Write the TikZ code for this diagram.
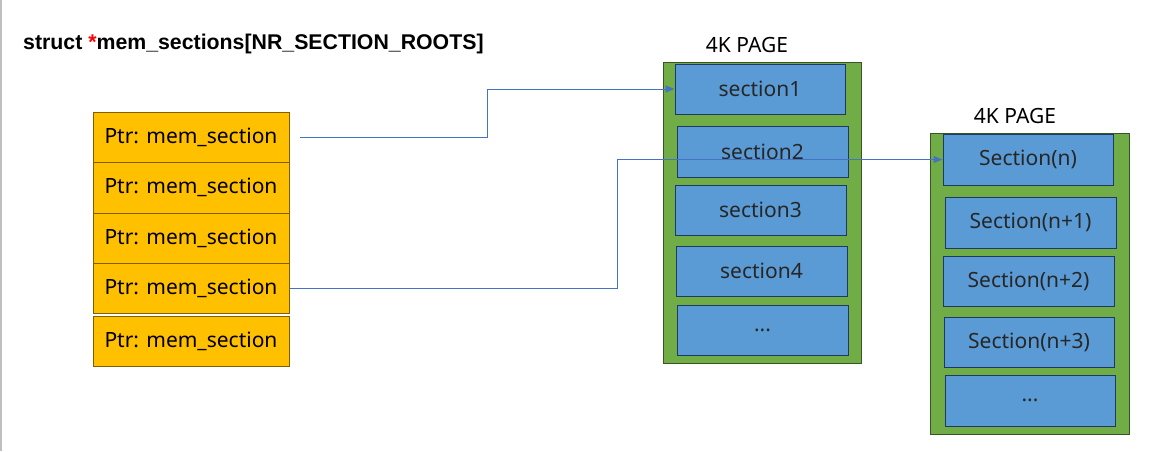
\documentclass[tikz,border=0pt]{standalone}
\usepackage{fontspec}
\setmainfont{Noto Sans}
\newfontfamily\titlefont{Liberation Sans}
\usetikzlibrary{arrows.meta}
\definecolor{ptrfill}{HTML}{FFC000}
\definecolor{ptrline}{HTML}{7F6000}
\definecolor{pagefill}{HTML}{70AD47}
\definecolor{pageline}{HTML}{375623}
\definecolor{secfill}{HTML}{5B9BD5}
\definecolor{secline}{HTML}{1F3864}
\definecolor{linkblue}{HTML}{4472C4}
\tikzset{
  ptrbox/.style={draw=ptrline, fill=ptrfill, line width=1pt, minimum width=196pt, minimum height=50pt, inner sep=0pt, font=\fontsize{21}{24}\selectfont},
  secbox/.style={draw=secline, fill=secfill, line width=1pt, minimum width=170pt, minimum height=50pt, inner sep=0pt, text=black!85, font=\fontsize{21}{24}\selectfont},
  pagebox/.style={draw=pageline, fill=pagefill, line width=1pt},
  pagelabel/.style={inner sep=0pt, font=\fontsize{21}{24}\selectfont},
  link/.style={draw=linkblue, line width=1pt, -{Triangle[length=9pt,width=7pt]}}
}
\begin{document}
\begin{tikzpicture}[x=1pt, y=-1pt]
\useasboundingbox (0,0) rectangle (1161,451);
\draw[gray!50, line width=1.5pt] (0.75,0) -- (0.75,451);
\node[anchor=west, inner sep=0pt, font=\titlefont\bfseries\fontsize{21.3}{24}\selectfont] (title) at (23,44) {struct \textcolor{red}{*}mem\_sections[NR\_SECTION\_ROOTS]};
% pointer array
\node[ptrbox, minimum height=50pt] (p1) at (191,137) {Ptr: mem\_section};
\node[ptrbox, minimum height=51pt] (p2) at (191,187.5) {Ptr: mem\_section};
\node[ptrbox, minimum height=50pt] (p3) at (191,238) {Ptr: mem\_section};
\node[ptrbox, minimum height=50pt] (p4) at (191,288) {Ptr: mem\_section};
\node[ptrbox, minimum height=50pt] (p5) at (191,341) {Ptr: mem\_section};
% first page
\draw[pagebox] (663,62) rectangle (861,363);
\node[pagelabel] (lbla) at (747,45) {4K PAGE};
\node[secbox] (s1) at (760,89) {section1};
\node[secbox, minimum width=171pt, minimum height=51pt] (s2) at (762.5,151.5) {section2};
\node[secbox, minimum width=171pt] (s3) at (760.5,210) {section3};
\node[secbox, minimum width=171pt] (s4) at (761.5,271) {section4};
\node[secbox, minimum width=171pt] (s5) at (762.5,330) {...};
% second page
\draw[pagebox] (930,133) rectangle (1129,434);
\node[pagelabel] (lblb) at (1015,116) {4K PAGE};
\node[secbox, minimum height=51pt] (n0) at (1028,159.5) {Section(n)};
\node[secbox, minimum width=171pt, minimum height=51pt] (n1) at (1030.5,222.5) {Section(n+1)};
\node[secbox, minimum width=171pt] (n2) at (1028.5,281) {Section(n+2)};
\node[secbox] (n3) at (1029,342) {Section(n+3)};
\node[secbox, minimum width=170pt, minimum height=51pt] (n4) at (1030,400.5) {...};
% pointers
\coordinate (c1) at (300,137);
\draw[link] (c1) -- ++(187.5,0) |- (s1.west);
\draw[link] (p4.east) -- ++(327.5,0) |- (n0.west);
\end{tikzpicture}
\end{document}
